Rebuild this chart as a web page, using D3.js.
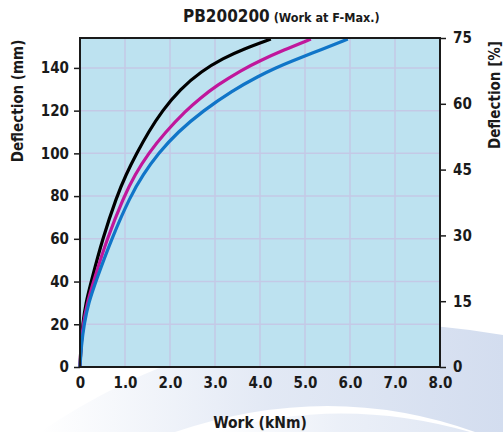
<!DOCTYPE html>
<html><head><meta charset="utf-8">
<script src="https://cdn.jsdelivr.net/npm/d3@7"></script>
<style>
body{margin:0;background:#fff;}
text{font-family:"DejaVu Sans Condensed","DejaVu Sans",sans-serif;font-weight:bold;fill:#1a1a1a;}
</style></head><body>
<svg id="c" width="503" height="432"></svg>
<script>
const title = "PB200200";
const subtitle = "(Work at F-Max.)";
const xTicks = [0,1,2,3,4,5,6,7,8];
const xTickLabels = ["0","1.0","2.0","3.0","4.0","5.0","6.0","7.0","8.0"];
const yTicks = [0,20,40,60,80,100,120,140];
const y2Ticks = [0,15,30,45,60,75];
const blackWork = [0,0.02,0.06,0.13,0.25,0.50,0.82,1.02,1.26,1.52,1.83,2.22,2.70,3.18,3.63,4.24];
const blackDefl = [0,10,20,30,40,60,80,90,100,110,120,130,138.5,144.5,148.8,153.5];
const magentaWork = [0,0.02,0.07,0.16,0.30,0.60,0.98,1.22,1.52,1.90,2.35,2.68,3.04,3.59,4.0,4.52,5.13];
const magentaDefl = [0,10,20,30,40,60,80,90,100,110,120,126,131.8,139,143.4,148.3,153.5];
const blueWork = [0,0.03,0.09,0.19,0.35,0.70,1.12,1.40,1.74,2.17,2.74,3.38,3.98,4.35,4.66,5.40,5.95];
const blueDefl = [0,10,20,30,40,60,80,90,100,110,120,129.3,136.3,140,142.8,148.9,153.5];

const series = [
  {w:blackWork, d:blackDefl, color:"#000000"},
  {w:magentaWork, d:magentaDefl, color:"#c0179c"},
  {w:blueWork, d:blueDefl, color:"#1075c8"}
];

const svg = d3.select("#c");
const L=80,R=440,T=38,B=367;
const x = d3.scaleLinear().domain([0,8]).range([L,R]);
const y = d3.scaleLinear().domain([0,154]).range([B,T]);
const y2 = d3.scaleLinear().domain([0,75]).range([B,T]);

// background watermark swooshes
const defs = svg.append("defs");
const g1 = defs.append("linearGradient").attr("id","sw").attr("x1","0").attr("x2","1").attr("y1","0").attr("y2","0");
g1.append("stop").attr("offset","0").attr("stop-color","#dbe3f2").attr("stop-opacity",0);
g1.append("stop").attr("offset","0.5").attr("stop-color","#dbe3f2").attr("stop-opacity",0.8);
g1.append("stop").attr("offset","1").attr("stop-color","#d3ddef").attr("stop-opacity",1);
const bg = svg.append("g");
bg.append("path").attr("d","M40,432 Q250,290 503,335 L503,432 L475,432 Q330,380 175,432 Z").attr("fill","url(#sw)");
bg.append("path").attr("d","M215,432 Q340,395 470,432 Z").attr("fill","url(#sw)").attr("opacity",0.7);

// plot background
svg.append("rect").attr("x",L).attr("y",T).attr("width",R-L).attr("height",B-T).attr("fill","#bde2f0");

// grid
const grid = svg.append("g").attr("stroke","#c4c9e6").attr("stroke-width",1.5);
xTicks.slice(1,-1).forEach(t=>grid.append("line").attr("x1",x(t)).attr("x2",x(t)).attr("y1",T).attr("y2",B));
yTicks.slice(1).forEach(t=>grid.append("line").attr("x1",L).attr("x2",R).attr("y1",y(t)).attr("y2",y(t)));

// curves
const line = d3.line().x(p=>x(p[0])).y(p=>y(p[1])).curve(d3.curveBasis);
series.forEach(s=>{
  const pts = s.w.map((v,i)=>[v,s.d[i]]);
  svg.append("path").attr("d",line(pts)).attr("fill","none").attr("stroke",s.color).attr("stroke-width",3.2).attr("stroke-linecap","butt");
});

// frame
svg.append("rect").attr("x",L).attr("y",T).attr("width",R-L).attr("height",B-T).attr("fill","none").attr("stroke","#1a1a1a").attr("stroke-width",2);

// axes
const fs = "15px";
const ax = svg.append("g").attr("transform",`translate(0,${B})`)
  .call(d3.axisBottom(x).tickValues(xTicks).tickFormat((d,i)=>xTickLabels[i]).tickSize(0).tickPadding(10));
ax.select(".domain").remove();
ax.selectAll("text").style("font-size",fs).attr("fill","#1a1a1a");

const ay = svg.append("g").attr("transform",`translate(${L},0)`)
  .call(d3.axisLeft(y).tickValues(yTicks).tickSize(6).tickPadding(5));
ay.select(".domain").remove();
ay.selectAll("line").attr("stroke","#1a1a1a").attr("stroke-width",1.5);
ay.selectAll("text").style("font-size",fs).attr("fill","#1a1a1a");

const ay2 = svg.append("g").attr("transform",`translate(${R},0)`)
  .call(d3.axisRight(y2).tickValues(y2Ticks).tickSize(6).tickPadding(7));
ay2.select(".domain").remove();
ay2.selectAll("line").attr("stroke","#1a1a1a").attr("stroke-width",1.5);
ay2.selectAll("text").style("font-size",fs).attr("fill","#1a1a1a");

// titles
const tt = svg.append("text").attr("x",183).attr("y",22);
tt.append("tspan").text(title).style("font-size","17px");
tt.append("tspan").text(" "+subtitle).style("font-size","12.5px");

svg.append("text").attr("x",260).attr("y",428).attr("text-anchor","middle").style("font-size","15.5px").text("Work (kNm)");
svg.append("text").attr("transform","translate(23,101) rotate(-90)").attr("text-anchor","middle").style("font-size","15px").text("Deflection (mm)");
svg.append("text").attr("transform","translate(500,95) rotate(-90)").attr("text-anchor","middle").style("font-size","15px").text("Deflection [%]");
</script></body></html>
